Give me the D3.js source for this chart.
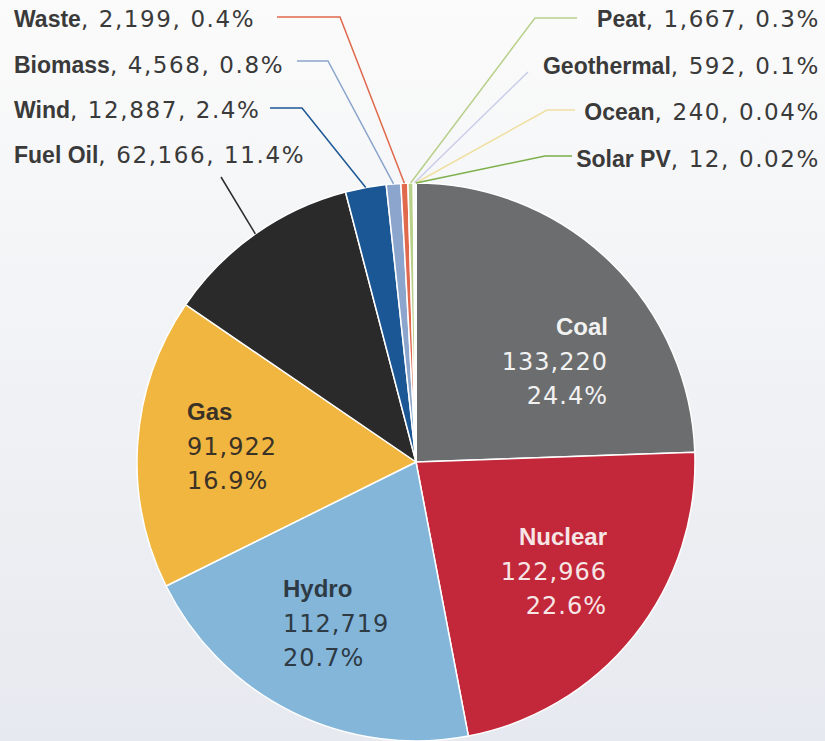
<!DOCTYPE html>
<html>
<head>
<meta charset="utf-8">
<script src="https://cdn.jsdelivr.net/npm/d3@7"></script>
<style>
  html, body { margin: 0; padding: 0; }
  body { width: 825px; height: 741px; overflow: hidden; }
  svg { display: block; }
  .name { font-family: "Liberation Sans", Arial, sans-serif; font-weight: bold; letter-spacing: 0; }
  .num { font-family: "DejaVu Sans", sans-serif; letter-spacing: 1px; }
  .outer .num { letter-spacing: 1.6px; }
</style>
</head>
<body>
<script>
(function(){

//chart data
var sources = ["Coal", "Nuclear", "Hydro", "Gas", "Fuel Oil", "Wind", "Biomass", "Waste", "Peat", "Geothermal", "Ocean", "Solar PV"];
var values = [133220, 122966, 112719, 91922, 62166, 12887, 4568, 2199, 1667, 592, 240, 12];
var shares = ["24.4%", "22.6%", "20.7%", "16.9%", "11.4%", "2.4%", "0.8%", "0.4%", "0.3%", "0.1%", "0.04%", "0.02%"];
var colours = ["#6b6d6e", "#c3283a", "#84b6da", "#f1b640", "#2a2a2a", "#1b5795", "#8ba5cc", "#e0684c", "#b8d08a", "#c9cde8", "#efe0a2", "#7bb04a"];

//big slices get labels inside, small ones get leader lines
var innerLabels = [
  {key: "Coal", x: 608, y: 335, anchor: "end", fill: "#f2f2f2"},
  {key: "Nuclear", x: 607, y: 545, anchor: "end", fill: "#f6e6e6"},
  {key: "Hydro", x: 283, y: 597, anchor: "start", fill: "#2e3a44"},
  {key: "Gas", x: 187, y: 420, anchor: "start", fill: "#3a3226"}
];
var outerLabels = [
  {key: "Waste", x: 14, y: 27, anchor: "start", lx: 277, ly: 17, kx: 340},
  {key: "Biomass", x: 14, y: 73, anchor: "start", lx: 297, ly: 61, kx: 328},
  {key: "Wind", x: 14, y: 118, anchor: "start", lx: 270, ly: 108, kx: 302},
  {key: "Fuel Oil", x: 14, y: 163, anchor: "start", lx: 221, ly: 177, kx: 221},
  {key: "Peat", x: 820, y: 27, anchor: "end", lx: 577, ly: 18, kx: 535},
  {key: "Geothermal", x: 820, y: 74, anchor: "end", lx: 528, ly: 72, kx: 528},
  {key: "Ocean", x: 820, y: 120, anchor: "end", lx: 575, ly: 110, kx: 547},
  {key: "Solar PV", x: 820, y: 167, anchor: "end", lx: 572, ly: 156, kx: 545}
];

var width = 825,
    height = 741,
    cx = 416,
    cy = 462,
    radius = 279;

var fmt = d3.format(",");

var svg = d3.select("body")
    .append("svg")
    .attr("width", width)
    .attr("height", height);

//soft background fade
var grad = svg.append("defs")
    .append("linearGradient")
    .attr("id", "bg")
    .attr("x1", 0).attr("y1", 0)
    .attr("x2", 0).attr("y2", 1);
grad.append("stop").attr("offset", "0%").attr("stop-color", "#fbfbfb");
grad.append("stop").attr("offset", "100%").attr("stop-color", "#e6e9ef");

svg.append("rect")
    .attr("width", width)
    .attr("height", height)
    .attr("fill", "url(#bg)");

var data = sources.map(function(s, i){
  return {name: s, value: values[i], share: shares[i], colour: colours[i]};
});

var pie = d3.pie()
    .sort(null)
    .value(function(d){ return d.value; });

var arcs = pie(data);
var byName = {};
arcs.forEach(function(a){ byName[a.data.name] = a; });

var arc = d3.arc()
    .innerRadius(0)
    .outerRadius(radius);

var g = svg.append("g")
    .attr("transform", "translate(" + cx + "," + cy + ")");

g.selectAll(".slice")
    .data(arcs)
    .enter()
    .append("path")
    .attr("class", "slice")
    .attr("d", arc)
    .attr("fill", function(d){ return d.data.colour; })
    .attr("stroke", "#ffffff")
    .attr("stroke-width", 1.5)
    .attr("stroke-linejoin", "round");

//leader lines from label to slice edge
function edgePoint(a){
  var mid = (a.startAngle + a.endAngle) / 2;
  return [cx + radius * Math.sin(mid), cy - radius * Math.cos(mid)];
}

svg.selectAll(".leader")
    .data(outerLabels)
    .enter()
    .append("polyline")
    .attr("class", "leader")
    .attr("fill", "none")
    .attr("stroke", function(d){ return byName[d.key].data.colour; })
    .attr("stroke-width", 1.5)
    .attr("points", function(d){
      var p = edgePoint(byName[d.key]);
      return [[d.lx, d.ly], [d.kx, d.ly], p].map(function(q){ return q.join(","); }).join(" ");
    });

var outer = svg.selectAll(".outer")
    .data(outerLabels)
    .enter()
    .append("text")
    .attr("class", "outer")
    .attr("x", function(d){ return d.x; })
    .attr("y", function(d){ return d.y; })
    .attr("text-anchor", function(d){ return d.anchor; })
    .attr("fill", "#3a3a3a");
outer.append("tspan")
    .attr("class", "name")
    .attr("font-size", 23)
    .text(function(d){ return d.key; });
outer.append("tspan")
    .attr("class", "num")
    .attr("font-size", 23)
    .text(function(d){
      var a = byName[d.key].data;
      return ", " + fmt(a.value) + ", " + a.share;
    });

//labels inside the big slices
var inner = svg.selectAll(".inner")
    .data(innerLabels)
    .enter()
    .append("text")
    .attr("class", "inner")
    .attr("text-anchor", function(d){ return d.anchor; })
    .attr("fill", function(d){ return d.fill; });
inner.append("tspan")
    .attr("class", "name")
    .attr("font-size", 24)
    .attr("x", function(d){ return d.x; })
    .attr("y", function(d){ return d.y; })
    .text(function(d){ return d.key; });
inner.append("tspan")
    .attr("class", "num")
    .attr("font-size", 24)
    .attr("x", function(d){ return d.x; })
    .attr("dy", 35)
    .text(function(d){ return fmt(byName[d.key].data.value); });
inner.append("tspan")
    .attr("class", "num")
    .attr("font-size", 24)
    .attr("x", function(d){ return d.x; })
    .attr("dy", 34)
    .text(function(d){ return byName[d.key].data.share; });

})();
</script>
</body>
</html>
